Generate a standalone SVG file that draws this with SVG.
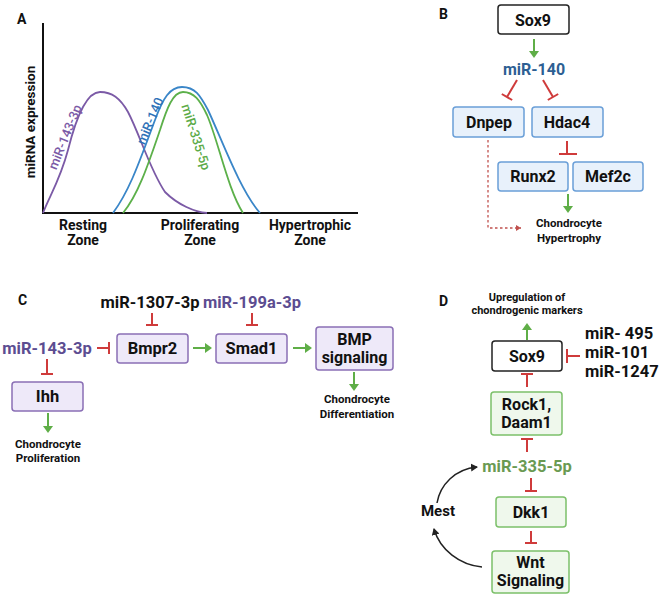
<svg xmlns="http://www.w3.org/2000/svg" width="661" height="598" viewBox="0 0 661 598">
<style>
text{font-family:Roboto,"Liberation Sans",Arial,sans-serif;font-weight:bold;fill:#111;text-anchor:middle}
.lbl{font-size:14px;text-anchor:start}
.ax{font-size:14px}
.cl{font-size:13px;font-weight:500}
.b16{font-size:16px}
.c17{font-size:16.5px}
.sm{font-size:11.5px}
.box-b{fill:#e8f1fb;stroke:#6a9fd8;stroke-width:1.5}
.box-p{fill:#eee9f9;stroke:#8a6fb5;stroke-width:1.5}
.box-g{fill:#eff8ec;stroke:#7cc06a;stroke-width:1.5}
.box-k{fill:#fff;stroke:#222;stroke-width:1.5}
.inh{stroke:#cf3b3b;stroke-width:2;fill:none}
.act{stroke:#5fae47;stroke-width:2;fill:none}
.ah{fill:#5fae47}
.purple{fill:#5c4d91}
.curve{fill:none;stroke-width:1.8}
</style>
<defs>
<marker id="blk" markerWidth="8" markerHeight="8" refX="6" refY="4" orient="auto" markerUnits="userSpaceOnUse"><path d="M0,0 L7,4 L0,8 Z" fill="#222"/></marker>
<marker id="redarr" markerWidth="6" markerHeight="6" refX="5" refY="3" orient="auto" markerUnits="userSpaceOnUse"><path d="M0,0 L5,3 L0,6 Z" fill="#c0504d"/></marker>
</defs>
<rect width="661" height="598" fill="#fff"/>

<!-- Panel labels -->
<text class="lbl" x="17" y="24">A</text>
<text class="lbl" x="439" y="19">B</text>
<text class="lbl" x="18" y="305">C</text>
<text class="lbl" x="439" y="306">D</text>

<!-- Panel A -->
<g id="chartA">
<line x1="43" y1="23" x2="43" y2="214" stroke="#111" stroke-width="2"/>
<line x1="42" y1="213" x2="358" y2="213" stroke="#111" stroke-width="2"/>
<text class="ax" transform="translate(35,122) rotate(-90)" style="font-size:13.5px">miRNA expression</text>
<path class="curve" stroke="#7b5aa6" d="M43,213 C50,195 60,180 68,150 C76,118 86,92 100,92 C112,92 120,98 128,112 C140,135 150,170 165,192 C178,205 195,212 207,213"/>
<path class="curve" stroke="#3a86c8" d="M113,213 C130,190 140,160 155,120 C163,98 170,87 182,87 C195,87 200,95 208,110 C222,140 240,190 260,213"/>
<path class="curve" stroke="#5cb04a" d="M123,213 C138,195 148,165 160,130 C167,108 173,92 183,92 C194,92 200,100 207,115 C218,140 228,190 243,213"/>
<text class="cl" transform="translate(65,137) rotate(-68)" y="4.5" style="fill:#7b5aa6">miR-143-3p</text>
<text class="cl" transform="translate(150,121) rotate(-67)" y="4.5" style="fill:#2f72b8">miR-140</text>
<text class="cl" transform="translate(196,137) rotate(72)" y="4.5" style="fill:#5cab48">miR-335-5p</text>
<text class="ax" x="83" y="230">Resting</text>
<text class="ax" x="83" y="245">Zone</text>
<text class="ax" x="200" y="230">Proliferating</text>
<text class="ax" x="200" y="245">Zone</text>
<text class="ax" x="310" y="230">Hypertrophic</text>
<text class="ax" x="310" y="245">Zone</text>
</g>

<!-- Panel B nodes -->
<g id="b-sox9"><rect class="box-k" x="498" y="5" width="71" height="29" rx="3"/><text class="b16" x="533" y="25.5">Sox9</text></g>
<g id="b-mir140"><text class="b16" x="534" y="74.5" style="fill:#2d5f93">miR-140</text></g>
<g id="b-dnpep"><rect class="box-b" x="453" y="107" width="71" height="30" rx="3"/><text class="b16" x="489" y="127.5">Dnpep</text></g>
<g id="b-hdac4"><rect class="box-b" x="532" y="107" width="71" height="30" rx="3"/><text class="b16" x="567" y="127.5">Hdac4</text></g>
<g id="b-runx2"><rect class="box-b" x="498" y="162" width="70" height="29" rx="3"/><text class="b16" x="533" y="181.5">Runx2</text></g>
<g id="b-mef2c"><rect class="box-b" x="573" y="162" width="70" height="29" rx="3"/><text class="b16" x="608" y="181.5">Mef2c</text></g>
<g id="b-hyper"><text class="sm" x="569" y="227">Chondrocyte</text><text class="sm" x="569" y="242">Hypertrophy</text></g>

<!-- Panel C nodes -->
<g id="c-mir1307"><text class="c17" x="150" y="308">miR-1307-3p</text></g>
<g id="c-mir199"><text class="c17 purple" x="252" y="308">miR-199a-3p</text></g>
<g id="c-mir143"><text class="c17 purple" x="47" y="354">miR-143-3p</text></g>
<g id="c-bmpr2"><rect class="box-p" x="117" y="334" width="71" height="29" rx="3"/><text class="c17" x="152.5" y="354">Bmpr2</text></g>
<g id="c-smad1"><rect class="box-p" x="216" y="334" width="71" height="29" rx="3"/><text class="c17" x="251.5" y="354">Smad1</text></g>
<g id="c-bmp"><rect class="box-p" x="316" y="327" width="77" height="43" rx="3"/><text style="font-size:16px" x="354.5" y="345">BMP</text><text style="font-size:16px" x="354.5" y="363">signaling</text></g>
<g id="c-ihh"><rect class="box-p" x="12" y="382" width="71" height="29" rx="3"/><text class="c17" x="47.5" y="402">Ihh</text></g>
<g id="c-prolif"><text class="sm" x="48" y="448">Chondrocyte</text><text class="sm" x="48" y="462">Proliferation</text></g>
<g id="c-diff"><text class="sm" x="357" y="403">Chondrocyte</text><text class="sm" x="357" y="418">Differentiation</text></g>

<!-- Panel D nodes -->
<g id="d-up"><text style="font-size:11px" x="527" y="301">Upregulation of</text><text style="font-size:11px" x="527" y="314">chondrogenic markers</text></g>
<g id="d-sox9"><rect class="box-k" x="492" y="341" width="70" height="30" rx="3"/><text class="b16" x="527" y="361.5">Sox9</text></g>
<g id="d-mirs"><text style="font-size:16.5px;text-anchor:start" x="585" y="339">miR- 495</text><text style="font-size:16.5px;text-anchor:start" x="585" y="358">miR-101</text><text style="font-size:16.5px;text-anchor:start" x="585" y="377">miR-1247</text></g>
<g id="d-rock1"><rect class="box-g" x="491" y="392" width="71" height="43" rx="3"/><text class="b16" x="526.5" y="410">Rock1,</text><text class="b16" x="526.5" y="428">Daam1</text></g>
<g id="d-mir335"><text class="c17" x="527" y="472" style="fill:#6a9a52">miR-335-5p</text></g>
<g id="d-dkk1"><rect class="box-g" x="496" y="497" width="70" height="30" rx="3"/><text class="b16" x="531" y="517.5">Dkk1</text></g>
<g id="d-wnt"><rect class="box-g" x="492" y="551" width="77" height="42" rx="3"/><text class="b16" x="530.5" y="568">Wnt</text><text class="b16" x="530.5" y="586">Signaling</text></g>
<g id="d-mest"><text style="font-size:15px" x="438" y="516">Mest</text></g>

<!-- Connectors -->
<g id="connectors">
<!-- B -->
<line class="act" x1="534" y1="39" x2="534" y2="52"/><polygon class="ah" points="529,51 539,51 534,58"/>
<line class="inh" x1="517" y1="80" x2="507" y2="97"/><line class="inh" x1="501.8" y1="94" x2="512.2" y2="100"/>
<line class="inh" x1="543" y1="80" x2="553" y2="97"/><line class="inh" x1="547.8" y1="100" x2="558.2" y2="94"/>
<line class="inh" x1="567" y1="141" x2="567" y2="154"/><line class="inh" x1="559" y1="154" x2="577" y2="154"/>
<line class="act" x1="568" y1="194" x2="568" y2="207"/><polygon class="ah" points="563,206 573,206 568,213"/>
<path d="M488,140 V228 H521" fill="none" stroke="#c0504d" stroke-width="1.3" stroke-dasharray="2.5,2.5" marker-end="url(#redarr)"/>
<!-- C -->
<line class="inh" x1="152" y1="313" x2="152" y2="325"/><line class="inh" x1="146" y1="325" x2="158" y2="325"/>
<line class="inh" x1="252" y1="313" x2="252" y2="325"/><line class="inh" x1="246" y1="325" x2="258" y2="325"/>
<line class="inh" x1="97" y1="348" x2="109" y2="348"/><line class="inh" x1="109" y1="342" x2="109" y2="354"/>
<line class="inh" x1="47" y1="359" x2="47" y2="374"/><line class="inh" x1="41" y1="374" x2="53" y2="374"/>
<line class="act" x1="193" y1="348" x2="206" y2="348"/><polygon class="ah" points="205,343 205,353 212,348"/>
<line class="act" x1="293" y1="348" x2="306" y2="348"/><polygon class="ah" points="305,343 305,353 312,348"/>
<line class="act" x1="48" y1="413" x2="48" y2="427"/><polygon class="ah" points="43,426 53,426 48,433"/>
<line class="act" x1="354" y1="372" x2="354" y2="385"/><polygon class="ah" points="349,384 359,384 354,391"/>
<!-- D -->
<line class="act" x1="527" y1="340" x2="527" y2="329"/><polygon class="ah" points="522,330 532,330 527,323"/>
<line class="inh" x1="580" y1="356" x2="567" y2="356"/><line class="inh" x1="567" y1="349" x2="567" y2="363"/>
<line class="inh" x1="527" y1="374" x2="527" y2="387"/><line class="inh" x1="521" y1="374" x2="533" y2="374"/>
<line class="inh" x1="527" y1="439" x2="527" y2="452"/><line class="inh" x1="521" y1="439" x2="533" y2="439"/>
<line class="inh" x1="531" y1="478" x2="531" y2="491"/><line class="inh" x1="525" y1="491" x2="537" y2="491"/>
<line class="inh" x1="531" y1="531" x2="531" y2="543"/><line class="inh" x1="525" y1="543" x2="537" y2="543"/>
<path d="M437,503 C440,485 455,469 477,467" fill="none" stroke="#222" stroke-width="1.5" marker-end="url(#blk)"/>
<path d="M482,567 C460,565 440,550 434,529" fill="none" stroke="#222" stroke-width="1.5" marker-end="url(#blk)"/>
</g>
</svg>
